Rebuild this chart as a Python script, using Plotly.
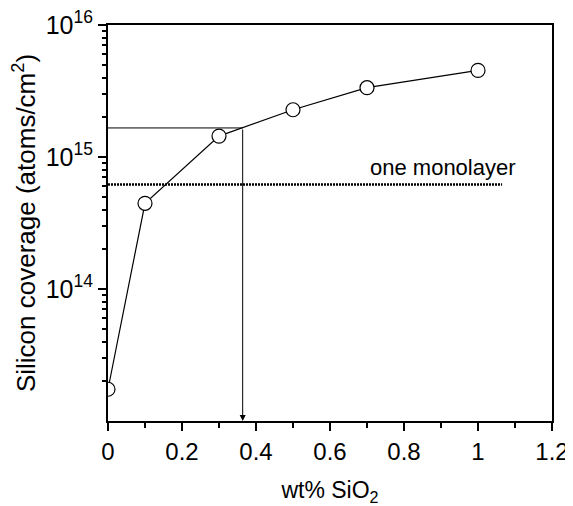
import math
import plotly.graph_objects as go

wt_sio2 = [0.0, 0.1, 0.3, 0.5, 0.7, 1.0]
si_coverage = [1.74e13, 4.46e14, 1.44e15, 2.28e15, 3.35e15, 4.53e15]

monolayer = 6.2e14
monolayer_x_end = 1.065
read_coverage = 1.66e15
read_wt = 0.364

y_major = [1e14, 1e15, 1e16]
y_major_text = ["10<sup>14</sup>", "10<sup>15</sup>", "10<sup>16</sup>"]
y_minor = [m * 10 ** e for e in (13, 14, 15) for m in range(2, 10)]
x_major = [0, 0.2, 0.4, 0.6, 0.8, 1.0, 1.2]
x_minor = [0.1, 0.3, 0.5, 0.7, 0.9, 1.1]

FONT = "Liberation Sans"

fig = go.Figure()

# one monolayer (dotted)
fig.add_trace(go.Scatter(
    x=[0, monolayer_x_end], y=[monolayer, monolayer], mode="lines",
    line=dict(color="black", width=2.5, dash="2px,1px"), hoverinfo="skip", showlegend=False))

# horizontal read-off line
fig.add_trace(go.Scatter(
    x=[0, read_wt], y=[read_coverage, read_coverage], mode="lines",
    line=dict(color="black", width=1), hoverinfo="skip", showlegend=False))

# data
fig.add_trace(go.Scatter(
    x=wt_sio2, y=si_coverage, mode="lines+markers",
    line=dict(color="black", width=1.2),
    marker=dict(symbol="circle", size=14, color="white", line=dict(color="black", width=1.2)),
    showlegend=False))

# vertical arrow down to the axis
fig.add_annotation(
    x=read_wt, y=13.0, ax=read_wt, ay=math.log10(read_coverage),
    xref="x", yref="y", axref="x", ayref="y", text="",
    showarrow=True, arrowhead=2, arrowsize=1.2, arrowwidth=1, arrowcolor="black")

fig.add_annotation(
    x=0.905, y=math.log10(monolayer) + 0.13, xref="x", yref="y",
    text="one monolayer", showarrow=False,
    font=dict(family=FONT, size=22, color="black"))

fig.update_layout(
    width=565, height=498,
    margin=dict(l=100, r=21, t=17, b=85),
    paper_bgcolor="white", plot_bgcolor="white",
    font=dict(family=FONT, color="black"),
    xaxis=dict(
        range=[0, 1.2], tickmode="array", tickvals=x_major,
        ticktext=["0", "0.2", "0.4", "0.6", "0.8", "1", "1.2"],
        showgrid=False, zeroline=False, automargin=False, ticklabeloverflow="allow",
        showline=True, linecolor="black", linewidth=2, mirror=True,
        ticks="outside", ticklen=8, tickwidth=2, tickcolor="black",
        minor=dict(tickmode="array", tickvals=x_minor, ticks="outside", ticklen=5,
                   tickwidth=2, tickcolor="black", showgrid=False),
        tickfont=dict(size=24, family=FONT),
        title=dict(text="wt% SiO<sub>2</sub>", font=dict(size=23, family=FONT), standoff=40),
    ),
    yaxis=dict(
        type="log", range=[13, 16],
        tickmode="array", tickvals=y_major, ticktext=y_major_text,
        showgrid=False, zeroline=False, automargin=False, ticklabeloverflow="allow",
        showline=True, linecolor="black", linewidth=2, mirror=True,
        ticks="outside", ticklen=8, tickwidth=2, tickcolor="black",
        minor=dict(tickmode="array", tickvals=y_minor, ticks="outside", ticklen=4,
                   tickwidth=2, tickcolor="black", showgrid=False),
        tickfont=dict(size=25, family=FONT),
        title=dict(text="Silicon coverage (atoms/cm<sup>2</sup>)", font=dict(size=26, family=FONT), standoff=12),
    ),
)

fig.write_html("out.html")
